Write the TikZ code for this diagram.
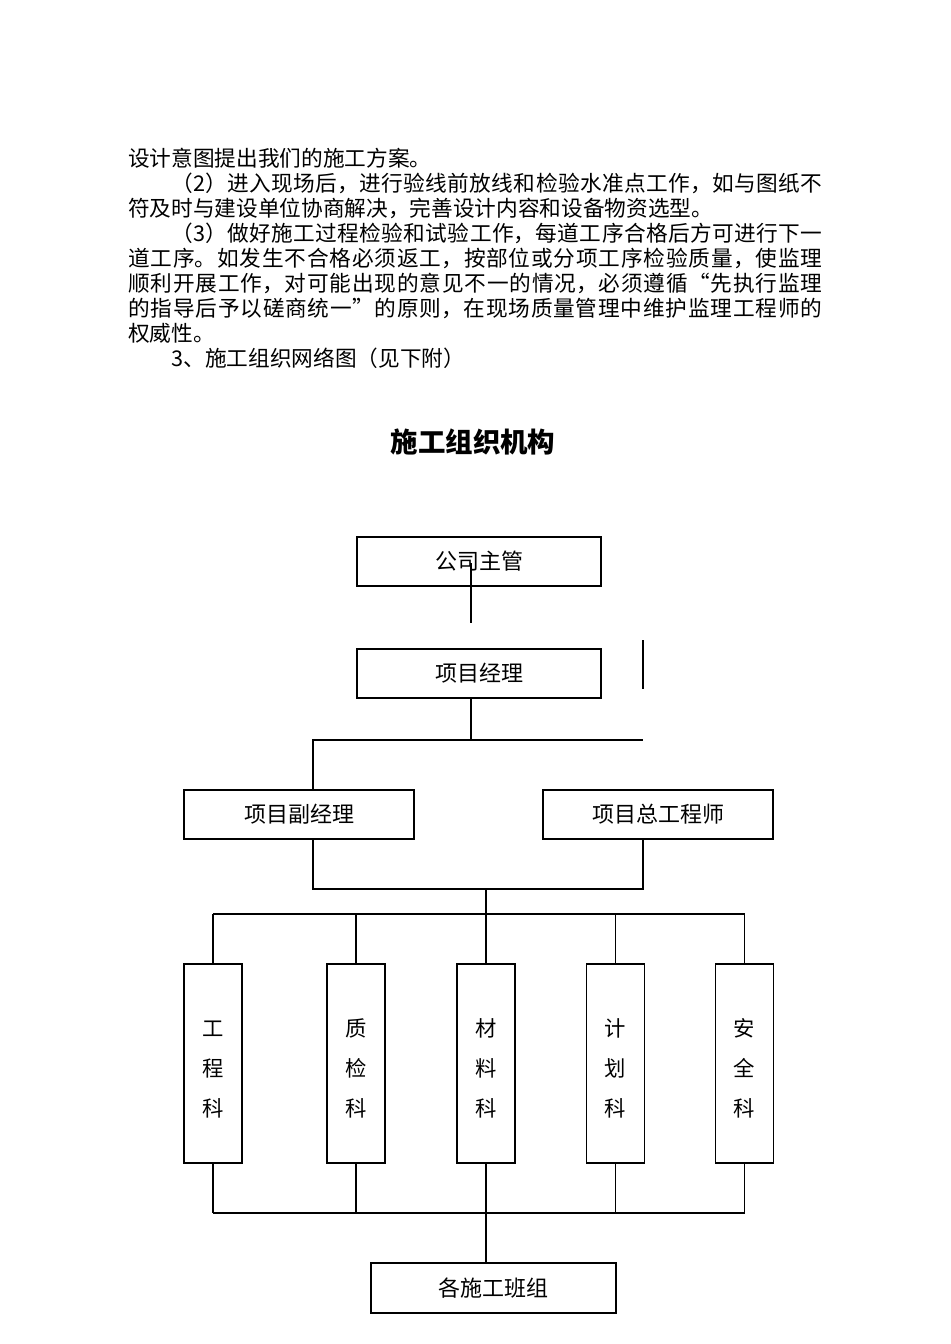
\documentclass[tikz,border=0pt]{standalone}
\usepackage{fontspec}
\setmainfont{Noto Sans CJK SC}
\XeTeXlinebreaklocale "zh"
\XeTeXlinebreakskip=0pt plus 2pt

\tikzset{
  orgbox/.style={draw,line width=0.9pt,inner sep=0pt,minimum height=36.75pt,
    font=\fontsize{16.5}{20}\selectfont},
  deptbox/.style={draw,line width=0.9pt,inner sep=0pt,minimum width=43.5pt,
    minimum height=149.25pt,align=center,text height=81pt,
    font=\fontsize{16}{30}\selectfont},
  link/.style={line width=0.9pt}
}

\begin{document}
\begin{tikzpicture}[x=0.75pt,y=-0.75pt]
\useasboundingbox (0,0) rectangle (950,1344);
\node[anchor=north west,inner sep=0pt,text width=520.5pt,align=justify,
  font=\fontsize{16.25}{18.75}\selectfont] (body) at (128,148) {%
设计意图提出我们的施工方案。\par
\hspace*{2em}（2）进入现场后，进行验线前放线和检验水准点工作，如与图纸不\linebreak
符及时与建设单位协商解决，完善设计内容和设备物资选型。\par
\hspace*{2em}（3）做好施工过程检验和试验工作，每道工序合格后方可进行下一\linebreak
道工序。如发生不合格必须返工，按部位或分项工序检验质量，使监理\linebreak
顺利开展工作，对可能出现的意见不一的情况，必须遵循“先执行监理\linebreak
的指导后予以磋商统一”的原则，在现场质量管理中维护监理工程师的\linebreak
权威性。\par
\hspace*{2em}3、施工组织网络图（见下附）};
\node[font=\fontsize{20.6}{24}\selectfont\bfseries] (title) at (473,442) {施工组织机构};

\node[orgbox,minimum width=183pt] (boss) at (479,561.5) {公司主管};
\node[orgbox,minimum width=183pt] (pm) at (479,673.5) {项目经理};
\node[orgbox,minimum width=172.5pt] (dpm) at (299,814.5) {项目副经理};
\node[orgbox,minimum width=172.5pt] (chief) at (658,814.5) {项目总工程师};
\node[deptbox] (eng) at (213,1063.5) {工\\程\\科};
\node[deptbox] (qc) at (356,1063.5) {质\\检\\科};
\node[deptbox] (mat) at (486,1063.5) {材\\料\\科};
\node[deptbox] (plan) at (615.5,1063.5) {计\\划\\科};
\node[deptbox] (safe) at (744.5,1063.5) {安\\全\\科};
\node[orgbox,minimum width=183.75pt,minimum height=37.5pt] (teams) at (493.5,1288) {各施工班组};

\coordinate (tap1) at (471,563);
\coordinate (tap2) at (471,623);
\coordinate (stray1) at (643,640);
\coordinate (stray2) at (643,689);
\coordinate (split) at (471,740);
\coordinate (splitL) at (313,740);
\coordinate (splitR) at (643,740);
\coordinate (joinL) at (313,889);
\coordinate (joinR) at (643,889);
\coordinate (bus) at (0,914);
\coordinate (busb) at (0,1213);

\draw[link] (tap1) -- (tap2);
\draw[link] (stray1) -- (stray2);
\draw[link] (split |- pm.south) -- (split);
\draw[link] (splitL |- dpm.north) -- (splitL) -- (splitR);
\draw[link] (joinL |- dpm.south) -- (joinL) -- (joinR) -- (joinR |- chief.south);
\draw[link] (mat.north |- joinL) -- (mat.north);
\draw[link] (eng.north |- bus) -- (safe.north |- bus);
\draw[link] (eng.south |- busb) -- (safe.south |- busb);
\foreach \d in {eng,qc,plan,safe} {
  \draw[link] (\d.north |- bus) -- (\d.north);
  \draw[link] (\d.south) -- (\d.south |- busb);
}
\draw[link] (mat.south) -- (mat.south |- teams.north);
\end{tikzpicture}
\end{document}
